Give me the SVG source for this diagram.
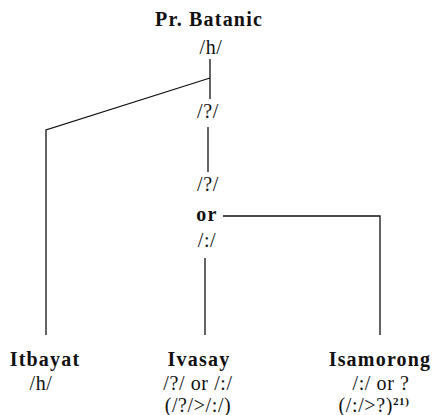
<svg xmlns="http://www.w3.org/2000/svg" width="432" height="415" viewBox="0 0 432 415">
<style>
text{font-family:"Liberation Serif","Times New Roman",serif;fill:#111;text-anchor:middle}
.b{font-weight:bold;font-size:20px;letter-spacing:1.2px}
.t{font-size:20px;letter-spacing:0.6px}
.sup{font-size:11px;font-weight:bold}
line,polyline{stroke:#111;stroke-width:1.3;fill:none}
</style>
<rect width="432" height="415" fill="#fff"/>
<g id="connectors">
<line x1="210" y1="59" x2="210" y2="99"/>
<polyline points="210,78 46,130 46,335"/>
<line x1="208" y1="127" x2="208" y2="172"/>
<polyline points="223,216 380,216 380,335"/>
<line x1="205" y1="258" x2="205" y2="335"/>
</g>
<g id="root">
<text class="b" x="209" y="26">Pr. Batanic</text>
<text class="t" x="211" y="54">/h/</text>
</g>
<g id="mid1"><text class="t" x="208" y="118">/?/</text></g>
<g id="mid2">
<text class="t" x="208" y="191">/?/</text>
<text class="b" x="207" y="221">or</text>
<text class="t" x="207" y="247">/:/</text>
</g>
<g id="itbayat">
<text class="b" x="45" y="366">Itbayat</text>
<text class="t" x="41" y="390">/h/</text>
</g>
<g id="ivasay">
<text class="b" x="199" y="366">Ivasay</text>
<text class="t" x="198" y="390">/?/ or /:/</text>
<text class="t" x="198" y="412">(/?/&gt;/:/)</text>
</g>
<g id="isamorong">
<text class="b" x="380" y="366">Isamorong</text>
<text class="t" x="381" y="390">/:/ or ?</text>
<text class="t" x="374" y="412">(/:/&gt;?)<tspan class="sup" dy="-7">21)</tspan></text>
</g>
</svg>
